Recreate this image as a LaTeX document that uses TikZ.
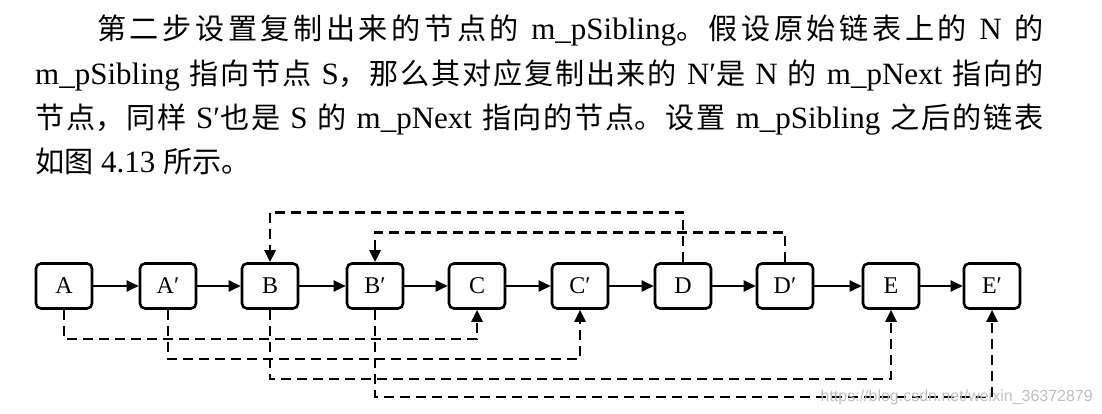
\documentclass[tikz,border=0pt]{standalone}
\usepackage{fontspec}
\setmainfont{Liberation Serif}
\newfontfamily\cjk[Scale=0.94]{Noto Sans CJK SC}
\newfontfamily\wmfont{Liberation Sans}
\usetikzlibrary{arrows.meta,positioning}
\XeTeXlinebreaklocale "zh"
\XeTeXlinebreakskip=0pt plus 3pt
\newcommand{\zh}[1]{{\cjk #1}}
\newcommand{\justline}{\parindent=0pt\parfillskip=0pt\relax}

\begin{document}
\begin{tikzpicture}[x=1pt, y=-1pt,
    txt/.style={anchor=base west, inner sep=0pt, font=\fontsize{31}{31}\selectfont},
    jline/.style={txt, text width=#1, align=justify},
    item/.style={rectangle, draw, line width=2.6pt, rounded corners=5pt,
                 minimum width=56pt, minimum height=45pt, inner sep=0pt,
                 font=\fontsize{24}{24}\selectfont},
    nxt/.style={-{Triangle[length=12pt,width=11pt]}, line width=2pt},
    sib/.style={-{Triangle[length=12pt,width=11pt]}, line width=2.6pt,
                dash pattern=on 10pt off 6pt},
    wm/.style={anchor=base east, inner sep=0pt, text=black!25,
               font=\wmfont\fontsize{16}{16}\selectfont}
]
\useasboundingbox (0,0) rectangle (1102,414);

% paragraph above the figure
\node[jline=946pt]  (l1) at (97,40)  {\justline\zh{第二步设置复制出来的节点的} m\_pSibling\zh{。假设原始链表上的} N \zh{的}\par};
\node[jline=1008pt] (l2) at (35,85)  {\justline m\_pSibling \zh{指向节点} S\zh{，那么其对应复制出来的} N′\zh{是} N \zh{的} m\_pNext \zh{指向的}\par};
\node[jline=1008pt] (l3) at (35,129) {\justline\zh{节点，同样} S′\zh{也是} S \zh{的} m\_pNext \zh{指向的节点。设置} m\_pSibling \zh{之后的链表}\par};
\node[txt]          (l4) at (35,172) {\zh{如图} 4.13 \zh{所示。}};

% list nodes
\node[item] (A)  at (64,286)  {A};
\node[item] (Ac) at (168,286) {A′};
\node[item] (B)  at (270,286) {B};
\node[item] (Bc) at (375,286) {B′};
\node[item] (C)  at (477,286) {C};
\node[item] (Cc) at (580,286) {C′};
\node[item] (D)  at (683,286) {D};
\node[item] (Dc) at (785,286) {D′};
\node[item] (E)  at (891,286) {E};
\node[item] (Ec) at (992,286) {E′};

% m_pNext
\draw[nxt] (A.east)  -- (Ac.west);
\draw[nxt] (Ac.east) -- (B.west);
\draw[nxt] (B.east)  -- (Bc.west);
\draw[nxt] (Bc.east) -- (C.west);
\draw[nxt] (C.east)  -- (Cc.west);
\draw[nxt] (Cc.east) -- (D.west);
\draw[nxt] (D.east)  -- (Dc.west);
\draw[nxt] (Dc.east) -- (E.west);
\draw[nxt] (E.east)  -- (Ec.west);

% m_pSibling
\draw[sib] (D.north)  -- ++(0,-50) -| (B.north);
\draw[sib] (Dc.north) -- ++(0,-30) -| (Bc.north);
\draw[sib] (A.south)  -- ++(0,29)  -| (C.south);
\draw[sib] (Ac.south) -- ++(0,49)  -| (Cc.south);
\draw[sib] (B.south)  -- ++(0,69)  -| (E.south);
\draw[sib] (Bc.south) -- ++(0,87)  -| (Ec.south);

\node[wm] (url) at (1093,401) {https://blog.csdn.net/weixin\_36372879};
\end{tikzpicture}
\end{document}
